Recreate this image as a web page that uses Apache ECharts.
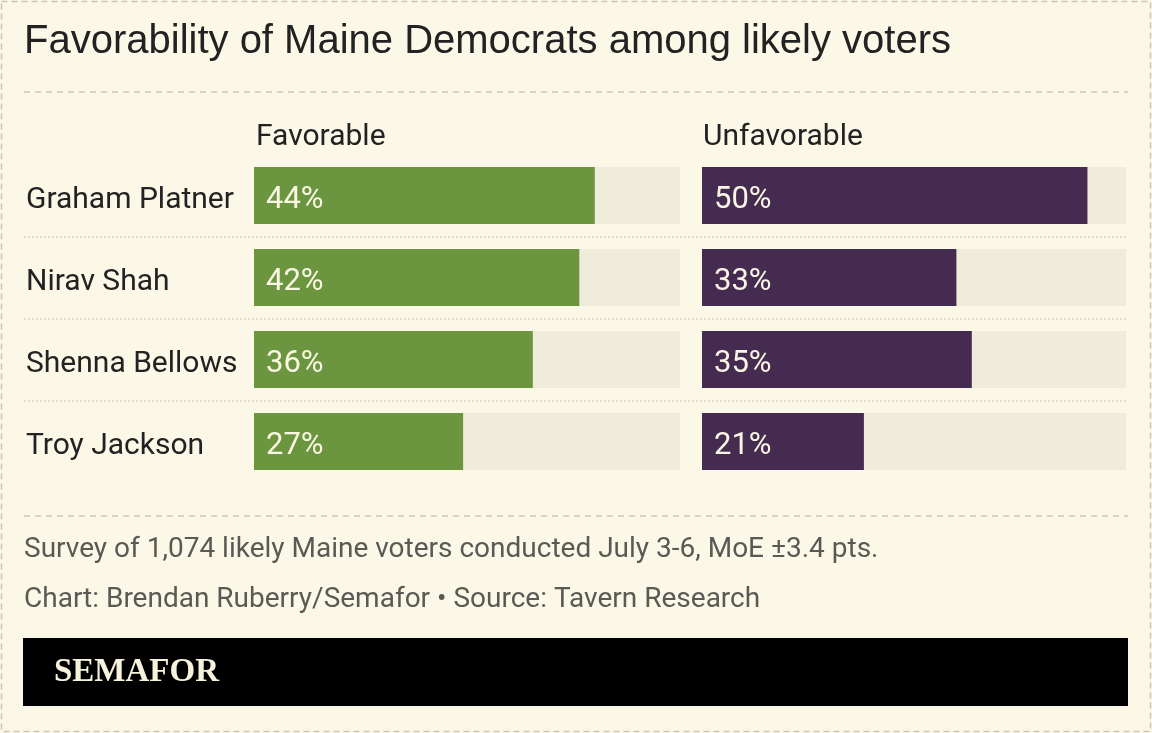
<!DOCTYPE html>
<html>
<head>
<meta charset="utf-8">
<script src="https://cdn.jsdelivr.net/npm/echarts@6/dist/echarts.min.js"></script>
<style>
  html, body { margin: 0; padding: 0; background: #fbf8e8; }
  #main { width: 1152px; height: 733px; }
</style>
</head>
<body>
<div id="main"></div>
<script>
const candidates = ['Graham Platner', 'Nirav Shah', 'Shenna Bellows', 'Troy Jackson']
const favorable = [44, 42, 36, 27]
const unfavorable = [50, 33, 35, 21]
const columnNames = ['Favorable', 'Unfavorable']

const bodyFont = 'Roboto'
const chart = echarts.init(document.getElementById('main'))

const makeSeries = (idx, data, color) => ({
  type: 'bar',
  xAxisIndex: idx,
  yAxisIndex: idx,
  data: data,
  barWidth: 57,
  showBackground: true,
  backgroundStyle: { color: '#f0ecdb' },
  itemStyle: { color: color },
  label: {
    show: true,
    position: 'insideLeft',
    distance: 12,
    offset: [0, 5],
    formatter: '{c}%',
    color: '#faf6e4',
    fontFamily: bodyFont,
    fontSize: 31
  },
  silent: true
})

const option = {
  backgroundColor: '#fbf8e8',
  animation: false,
  title: [
    {
      text: 'Favorability of Maine Democrats among likely voters',
      left: 24, top: 22, padding: 0,
      textStyle: { fontFamily: 'Liberation Sans', fontSize: 40, fontWeight: 'normal', color: '#222' }
    },
    {
      text: columnNames[0], left: 256, top: 122, padding: 0,
      textStyle: { fontFamily: bodyFont, fontSize: 30, fontWeight: 'normal', color: '#222' }
    },
    {
      text: columnNames[1], left: 703, top: 122, padding: 0,
      textStyle: { fontFamily: bodyFont, fontSize: 30, fontWeight: 'normal', color: '#222' }
    },
    {
      text: 'Survey of 1,074 likely Maine voters conducted July 3-6, MoE \u00b13.4 pts.',
      left: 24, top: 536, padding: 0,
      textStyle: { fontFamily: bodyFont, fontSize: 28, fontWeight: 'normal', color: '#5a5a55' }
    },
    {
      text: 'Chart: Brendan Ruberry/Semafor \u2022 Source: Tavern Research',
      left: 24, top: 586, padding: 0,
      textStyle: { fontFamily: bodyFont, fontSize: 28, fontWeight: 'normal', color: '#5a5a55' }
    }
  ],
  grid: [
    { left: 254, width: 426, top: 154.5, height: 328 },
    { left: 702, width: 424, top: 154.5, height: 328 }
  ],
  xAxis: [0, 1].map(i => ({
    gridIndex: i, type: 'value', min: 0, max: 55,
    show: false
  })),
  yAxis: [0, 1].map(i => ({
    gridIndex: i,
    type: 'category',
    data: candidates,
    inverse: true,
    axisLine: { show: false },
    axisTick: { show: false },
    splitLine: { show: false },
    axisLabel: {
      show: i === 0,
      align: 'left',
      margin: 228,
      formatter: v => '{n|' + v + '}',
      rich: {
        n: { padding: [10, 0, 0, 0], fontFamily: bodyFont, fontSize: 30, color: '#222' }
      },
      fontFamily: bodyFont,
      fontSize: 30,
      color: '#222'
    }
  })),
  series: [
    makeSeries(0, favorable, '#6b963f'),
    makeSeries(1, unfavorable, '#452b50')
  ],
  graphic: [
    // outer dashed frame
    { type: 'rect', shape: { x: 1.5, y: 1.5, width: 1149, height: 730 }, style: { fill: null, stroke: '#c9c7ba', lineWidth: 1.5, lineDash: [6, 4] }, silent: true },
    // rule under title
    { type: 'line', shape: { x1: 24, y1: 92, x2: 1128, y2: 92 }, style: { stroke: '#c9c7ba', lineWidth: 1.5, lineDash: [6, 5] }, silent: true },
    // row separators
    { type: 'line', shape: { x1: 24, y1: 237, x2: 1126, y2: 237 }, style: { stroke: '#d6d4c6', lineWidth: 1.5, lineDash: [2, 2] }, silent: true },
    { type: 'line', shape: { x1: 24, y1: 319, x2: 1126, y2: 319 }, style: { stroke: '#d6d4c6', lineWidth: 1.5, lineDash: [2, 2] }, silent: true },
    { type: 'line', shape: { x1: 24, y1: 401, x2: 1126, y2: 401 }, style: { stroke: '#d6d4c6', lineWidth: 1.5, lineDash: [2, 2] }, silent: true },
    // rule above notes
    { type: 'line', shape: { x1: 24, y1: 516, x2: 1128, y2: 516 }, style: { stroke: '#c9c7ba', lineWidth: 1.5, lineDash: [6, 5] }, silent: true },
    // logo band
    { type: 'rect', shape: { x: 23, y: 638, width: 1105, height: 68 }, style: { fill: '#000' }, silent: true },
    {
      type: 'text', left: 54, top: 656,
      style: { text: 'SEMAFOR', fill: '#f7f2dc', font: 'bold 33px "Liberation Serif"' },
      silent: true
    }
  ]
}

chart.setOption(option)
</script>
</body>
</html>
